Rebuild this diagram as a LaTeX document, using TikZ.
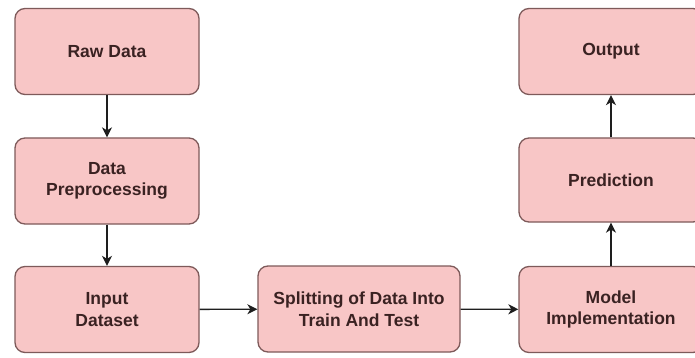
\documentclass[tikz,border=0pt]{standalone}
\usepackage{fontspec}
\setmainfont{Liberation Sans}
\usetikzlibrary{arrows.meta}
\definecolor{boxfill}{HTML}{F8C6C6}
\definecolor{boxline}{HTML}{7E5A5A}
\definecolor{boxtext}{HTML}{3A2222}
\definecolor{linkcol}{HTML}{1E1E1E}
\tikzset{
  stage/.style={draw=boxline, line width=1.3pt, fill=boxfill, rounded corners=10pt,
    minimum width=184pt, minimum height=86pt, align=center, text=boxtext,
    font=\fontsize{17.5}{21.5}\selectfont\bfseries, inner sep=0pt},
  link/.style={draw=linkcol, line width=1.4pt,
    -{Stealth[length=10pt,width=10pt,inset=3pt]}}
}
\begin{document}
\begin{tikzpicture}[x=1pt,y=-1pt]
  \useasboundingbox (0,0) rectangle (695,358);
  \fill[white] (0,0) rectangle (695,358);
  \node[stage] (raw)   at (107,51.5)  {Raw Data};
  \node[stage] (prep)  at (107,181)   {Data\\Preprocessing};
  \node[stage] (input) at (107,309.5) {Input\\Dataset};
  \node[stage, minimum width=202pt] (split) at (359,309) {Splitting of Data Into\\Train And Test};
  \node[stage] (model) at (611,309.5) {Model\\Implementation};
  \node[stage, minimum height=84pt] (pred)  at (611,180)   {Prediction};
  \node[stage] (out)   at (611,51.5)  {Output};
  \draw[link] (raw) -- (prep);
  \draw[link] (prep) -- (input);
  \draw[link] (input) -- (split);
  \draw[link] (split) -- (model);
  \draw[link] (model) -- (pred);
  \draw[link] (pred) -- (out);
\end{tikzpicture}
\end{document}
